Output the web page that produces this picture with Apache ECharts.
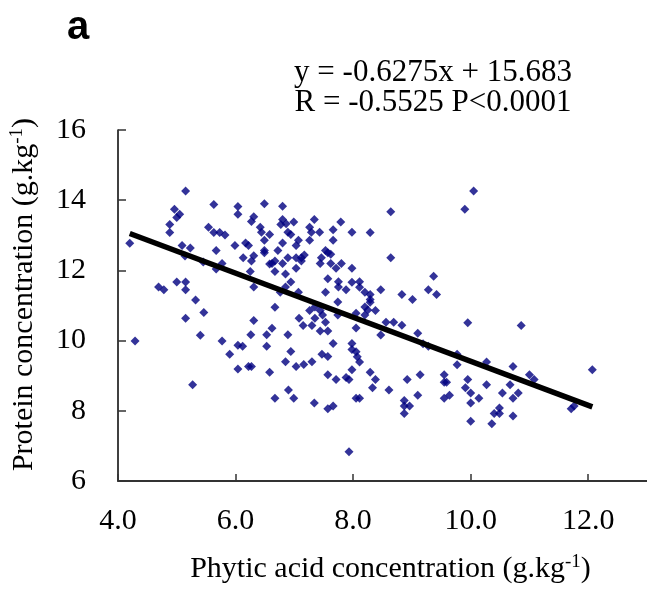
<!DOCTYPE html>
<html><head><meta charset="utf-8">
<script src="https://cdn.jsdelivr.net/npm/echarts@6/dist/echarts.min.js"></script>
<style>html,body{margin:0;padding:0;background:#fff}#c{width:647px;height:590px}</style>
</head><body><div id="c"></div>
<script>
// Phytic acid concentration (g.kg-1)
const phytic = [
5.15,5.63,6.04,6.04,4.96,5.05,5.00,4.88,4.88,5.54,5.63,5.73,5.82,4.20,5.09,5.23,5.67,5.99,5.14,5.45,5.77,5.67,4.69,4.78,5.00,5.15,5.15,5.32,5.46,5.15,5.40,
4.29,5.77,6.04,5.90,6.04,5.27,
6.49,6.80,6.31,6.27,6.80,6.77,6.86,6.99,7.34,7.79,6.42,6.44,6.89,6.94,6.58,7.26,7.29,7.43,7.66,7.98,6.49,6.80,7.07,7.26,7.66,6.17,6.22,
6.49,6.49,6.72,7.03,7.53,7.57,7.62,6.31,6.13,6.27,6.89,7.03,7.12,7.17,7.12,7.46,7.44,6.67,6.62,6.58,6.80,7.62,7.80,7.71,7.98,7.03,6.67,6.25,6.85,7.57,6.94,6.31,6.85,7.75,7.75,7.88,6.76,7.07,7.53,7.98,7.74,6.67,7.26,7.35,7.44,7.48,7.74,7.08,7.35,7.53,6.31,6.62,7.15,7.30,7.44,7.57,8.05,8.05,6.26,6.53,6.89,
6.12,6.53,7.66,7.98,7.98,8.05,6.94,7.47,7.57,6.85,7.03,7.16,7.30,6.22,6.27,6.58,7.98,7.57,7.71,7.88,7.93,6.90,6.67,6.99,7.34,7.57,7.66,8.05,7.93,
10.05,9.90,8.64,8.29,8.64,8.11,8.11,8.47,8.20,8.29,8.29,8.29,9.37,9.28,9.42,8.83,9.01,8.20,8.25,8.38,8.20,8.56,8.69,8.83,8.47,9.10,9.95,
9.19,9.28,8.07,8.11,9.77,9.77,10.27,8.29,8.38,8.33,8.11,8.61,8.92,9.14,9.55,9.55,9.59,9.95,9.91,10.00,10.14,10.27,9.10,8.87,8.87,8.96,8.87,9.55,9.64,10.00,10.00,
10.86,10.72,11.00,11.08,12.07,10.67,10.54,10.81,10.72,10.49,10.40,10.49,10.36,10.72,11.71,11.76
];
// Protein concentration (g.kg-1)
const protein = [
14.26,13.88,13.82,13.60,13.74,13.60,13.51,13.31,13.08,13.23,13.08,13.08,13.01,12.77,12.71,12.64,12.57,12.71,12.41,12.24,12.20,12.04,11.53,11.45,11.67,11.67,11.45,11.16,10.80,10.64,10.15,
9.99,9.99,9.87,9.61,9.19,8.74,
13.90,13.83,13.53,13.39,13.45,13.31,13.33,13.38,13.45,13.38,13.23,13.09,13.09,13.02,13.02,13.23,13.09,13.09,13.16,13.09,12.86,12.78,12.86,12.86,12.86,12.78,12.71,
12.57,12.50,12.57,12.71,12.57,12.50,12.46,12.42,12.36,12.27,12.36,12.36,12.36,12.44,12.27,12.36,12.20,12.27,12.20,12.18,12.20,12.20,12.20,12.06,12.06,12.06,11.97,11.97,11.90,11.76,11.67,11.53,11.53,11.68,11.53,11.45,11.38,11.38,11.38,11.66,11.10,10.95,10.86,10.96,10.86,10.73,10.73,10.64,10.64,10.52,10.57,10.35,10.43,10.43,10.27,10.27,10.36,10.78,10.17,10.17,10.17,
9.84,9.84,9.92,9.92,9.75,9.68,9.69,9.61,9.55,9.40,9.26,9.32,9.40,9.26,9.26,9.10,9.17,9.03,8.89,8.95,8.89,8.59,8.36,8.36,8.22,8.06,8.14,8.36,6.83,
14.26,13.74,13.67,13.08,12.36,11.68,11.52,11.45,11.38,11.31,11.17,11.09,11.83,11.45,11.31,11.31,11.17,10.96,10.87,10.86,10.73,10.52,10.52,10.44,10.16,10.21,10.51,
9.91,9.84,9.54,9.39,9.61,9.31,9.39,9.10,8.89,8.66,8.36,8.59,8.89,9.03,9.03,8.81,8.81,8.89,8.66,8.51,8.36,8.74,8.44,8.29,8.14,8.14,7.92,8.36,8.44,8.22,7.70,
10.43,9.26,9.03,8.89,9.17,8.74,8.51,8.51,8.36,8.08,7.92,7.92,7.63,7.85,8.06,8.14
];
// Regression line y = -0.6275x + 15.683 endpoints
const fitX = [4.20, 12.07];
const fitY = [13.05, 8.11];
const xTickValues = [4, 6, 8, 10, 12];
const yTickValues = [6, 8, 10, 12, 14, 16];

const pts = phytic.map((x, i) => [x, protein[i]]);
const fit = fitX.map((x, i) => [x, fitY[i]]);
const serif = 'Liberation Serif';

const chart = echarts.init(document.getElementById('c'), null, {renderer: 'canvas'});
chart.setOption({
  animation: false,
  backgroundColor: '#fff',
  grid: {left: 117, top: 130, width: 532, height: 357.5},
  xAxis: {
    type: 'value', min: 4, max: 13, interval: 2,
    axisLine: {lineStyle: {color: '#333', width: 2}},
    axisTick: {inside: true, length: 7, lineStyle: {color: '#333', width: 1.5}},
    splitLine: {show: false},
    axisLabel: {
      fontFamily: serif, fontSize: 30, color: '#000', margin: 25, showMaxLabel: false,
      formatter: v => xTickValues.includes(v) ? v.toFixed(1) : ''
    },
    name: 'Phytic acid concentration (g.kg{sup|-1})',
    nameLocation: 'middle', nameGap: 72,
    nameTextStyle: {
      fontFamily: serif, fontSize: 30, color: '#000', lineHeight: 32, padding: [0, 0, 0, 16],
      rich: {sup: {fontFamily: serif, fontSize: 19, verticalAlign: 'top', lineHeight: 32, padding: [0, 0, 12, 0]}}
    }
  },
  yAxis: {
    type: 'value', min: 6, max: 16, interval: 2,
    axisLine: {lineStyle: {color: '#000', width: 1.5}},
    axisTick: {inside: true, length: 8, lineStyle: {color: '#333', width: 1.5}},
    splitLine: {show: false},
    axisLabel: {
      fontFamily: serif, fontSize: 30, color: '#000', margin: 32,
      formatter: v => yTickValues.includes(v) ? String(v) : ''
    },
    name: 'Protein concentration (g.kg{sup|-1})',
    nameLocation: 'middle', nameGap: 78,
    nameTextStyle: {
      fontFamily: serif, fontSize: 30, color: '#000', lineHeight: 32, padding: [0, 0, 0, 22],
      rich: {sup: {fontFamily: serif, fontSize: 19, verticalAlign: 'top', lineHeight: 32, padding: [0, 0, 12, 0]}}
    }
  },
  series: [
    {
      type: 'scatter', data: pts, symbol: 'diamond', symbolSize: 9,
      itemStyle: {color: '#000080'}, z: 2
    },
    {
      type: 'line', data: fit, showSymbol: false, symbol: 'none',
      lineStyle: {color: '#000', width: 5.5}, z: 3
    }
  ],
  graphic: [
    {type: 'text', left: 67, top: 8, style: {text: 'a', font: 'bold 40px "Liberation Sans"', fill: '#000'}},
    {type: 'text', x: 433, y: 73, style: {text: 'y = -0.6275x + 15.683', font: '31px "Liberation Serif"', fill: '#000', textAlign: 'center', textVerticalAlign: 'middle'}},
    {type: 'text', x: 433, y: 103, style: {text: 'R = -0.5525 P<0.0001', font: '31px "Liberation Serif"', fill: '#000', textAlign: 'center', textVerticalAlign: 'middle'}}
  ]
});
</script></body></html>
